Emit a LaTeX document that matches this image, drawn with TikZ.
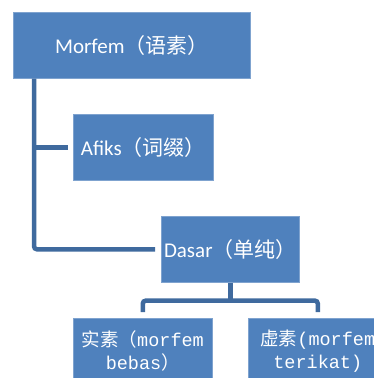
\documentclass[tikz,border=0pt]{standalone}
\usepackage{fontspec}
\newfontfamily\calfont{Carlito}
\newfontfamily\cjk{Noto Sans CJK SC}
\newfontfamily\monofont{Liberation Mono}
\definecolor{boxblue}{HTML}{4F81BD}
\definecolor{boxedge}{HTML}{7FA3CF}
\definecolor{linkblue}{HTML}{3F6A9E}
\begin{document}
\begin{tikzpicture}[x=1pt,y=-1pt,
  box/.style={rectangle, fill=boxblue, draw=boxedge, line width=0.6pt, anchor=north west,
    inner sep=0pt, text=white, align=center},
  topfont/.style={font=\fontsize{21}{25}\selectfont},
  lowfont/.style={font=\fontsize{18.5}{23}\selectfont},
  link/.style={draw=linkblue, line width=4.5pt, rounded corners=3pt}]
\useasboundingbox (0,0) rectangle (374,378);
\clip (0,0) rectangle (374,378);
\node[box, topfont, minimum width=237pt, minimum height=66pt] (top) at (13,12)
  {{\calfont Morfem}{\cjk（语素）}};
\node[box, topfont, minimum width=140pt, minimum height=66pt] (afiks) at (73,114)
  {{\calfont Afiks}{\cjk（词缀）}};
\node[box, topfont, minimum width=138pt, minimum height=66pt] (dasar) at (161,216)
  {{\calfont Dasar}{\cjk（单纯）}};
\node[box, lowfont, minimum width=139pt, minimum height=66pt] (bebas) at (73,318)
  {{\cjk 实素（}{\monofont morfem}\\{\monofont bebas}{\cjk ）}};
\node[box, lowfont, minimum width=139pt, minimum height=66pt] (terikat) at (248,318)
  {{\cjk 虚素}{\monofont (morfem}\\{\monofont terikat)}};
% left trunk
\coordinate (trunk) at ([xshift=21pt]top.south west);
\draw[link, shorten >=6pt] (trunk) |- (dasar.west);
\draw[link, rounded corners=0pt, shorten >=5pt] (trunk |- afiks.west) -- (afiks.west);
% bracket under Dasar
\coordinate (mid) at ([yshift=-18pt]dasar.south);
\draw[link, rounded corners=0pt] (dasar.south) -- (mid);
\draw[link, shorten <=6pt, shorten >=6pt] (bebas.north) |- (mid) -| (terikat.north);
\end{tikzpicture}
\end{document}
